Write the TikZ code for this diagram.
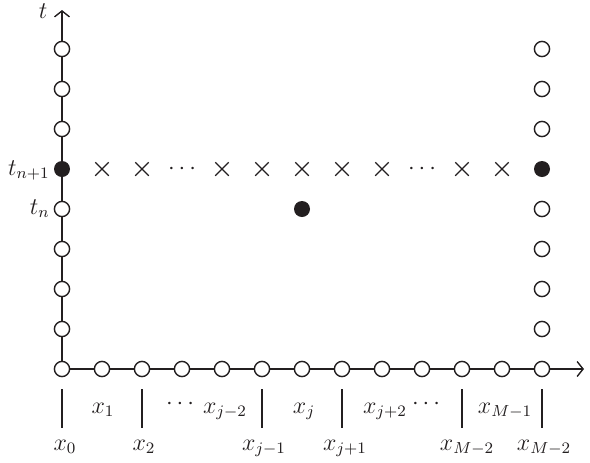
\documentclass[tikz,border=0pt]{standalone}
\usetikzlibrary{arrows.meta,shapes.misc}
\definecolor{ink}{HTML}{231F20}
\begin{document}
\begin{tikzpicture}[x=0.5pt,y=-0.5pt,
  opn/.style={circle,draw=ink,fill=white,line width=0.7pt,minimum size=7.6pt,inner sep=0pt},
  ful/.style={circle,fill=ink,minimum size=8pt,inner sep=0pt},
  crs/.style={cross out,draw=ink,line width=0.55pt,minimum size=6.2pt,inner sep=0pt},
  lab/.style={text=ink,font=\fontsize{12}{14}\selectfont,inner sep=0pt},
  axisline/.style={draw=ink,line width=0.7pt,-{Straight Barb[length=3pt,width=7.5pt]}},
  tickline/.style={draw=ink,line width=0.6pt}]
\useasboundingbox (0,0) rectangle (590,462);
% axes
\coordinate (O) at (62,369);
\coordinate (tend) at (62,10);
\coordinate (xend) at (584,369);
\draw[axisline] (O) -- (tend);
\draw[axisline] (O) -- (xend);
% circles on x axis
\foreach \i in {0,...,12}{
  \node[opn] (b\i) at ({62+40*\i},369) {};
}
% left column (t axis)
\foreach \k in {1,2,3,4,6,7,8}{
  \node[opn] (l\k) at (62,{369-40*\k}) {};
}
\node[ful] (l5) at (62,169) {};
% right column
\foreach \k in {1,2,3,4,6,7,8}{
  \node[opn] (r\k) at (542,{369-40*\k}) {};
}
\node[ful] (r5) at (542,169) {};
% centre dot
\node[ful] (p) at (302,209) {};
% crosses
\foreach \xx [count=\n] in {102,142,222,262,302,342,382,462,502}{
  \node[crs] (c\n) at (\xx,169) {};
}
\node[lab] (d1) at (182,169) {$\cdots$};
\node[lab] (d2) at (422,169) {$\cdots$};
% t labels
\node[lab,anchor=base] (tl) at (43,18) {$t$};
\node[lab,anchor=base east] (tn1) at (50,175) {$t_{n+1}$};
\node[lab,anchor=base east] (tn) at (50,214) {$t_{n}$};
% ticks
\foreach \xx [count=\n] in {62,142,262,342,462,542}{
  \coordinate (ta\n) at (\xx,389);
  \coordinate (tb\n) at (\xx,428);
  \draw[tickline] (ta\n) -- (tb\n);
}
% lower labels
\node[lab,anchor=base] (x0) at (65,450) {$x_0$};
\node[lab,anchor=base] (x2) at (144,450) {$x_2$};
\node[lab,anchor=base] (xjm1) at (264,450) {$x_{j-1}$};
\node[lab,anchor=base] (xjp1) at (345,450) {$x_{j+1}$};
\node[lab,anchor=base] (xMm2a) at (467,450) {$x_{M-2}$};
\node[lab,anchor=base] (xMm2b) at (544,450) {$x_{M-2}$};
% upper labels
\node[lab,anchor=base] (x1) at (103,413) {$x_1$};
\node[lab] (d3) at (180,404) {$\cdots$};
\node[lab,anchor=base] (xjm2) at (225,413) {$x_{j-2}$};
\node[lab,anchor=base] (xj) at (304,413) {$x_j$};
\node[lab,anchor=base] (xjp2) at (385,413) {$x_{j+2}$};
\node[lab] (d4) at (426,404) {$\cdots$};
\node[lab,anchor=base] (xMm1) at (505,413) {$x_{M-1}$};
\end{tikzpicture}
\end{document}
